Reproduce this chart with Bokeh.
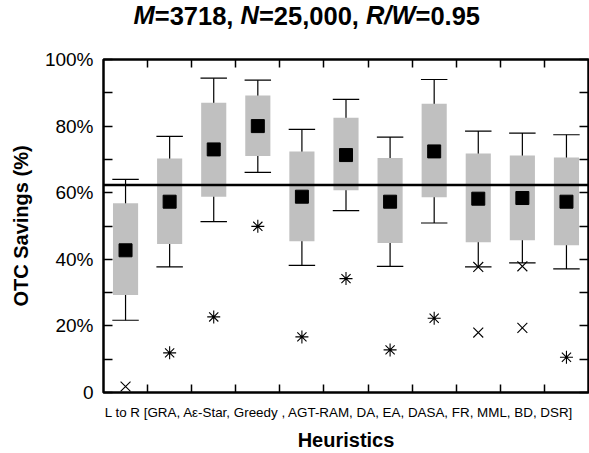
import numpy as np
from bokeh.plotting import figure
from bokeh.models import Range1d, LinearAxis, FixedTicker, Span
from bokeh.embed import file_html
from bokeh.resources import INLINE

# ---------------- data ----------------
heuristics = ["GRA", "A\u03b5-Star", "Greedy", "AGT-RAM", "DA", "EA", "DASA", "FR", "MML", "BD", "DSR"]
whisker_high = [64.0, 76.9, 94.4, 93.8, 79.0, 88.0, 76.7, 94.0, 78.5, 77.9, 77.4]
box_top      = [56.8, 70.3, 87.0, 89.2, 72.4, 82.5, 70.4, 86.7, 71.8, 71.2, 70.6]
mean_value   = [42.7, 57.3, 73.0, 80.0, 58.8, 71.3, 57.3, 72.4, 58.2, 58.4, 57.3]
box_bottom   = [29.3, 44.6, 58.8, 71.0, 45.4, 60.7, 44.9, 58.6, 45.1, 45.7, 44.2]
whisker_low  = [21.7, 37.7, 51.3, 66.1, 38.2, 54.6, 37.9, 50.9, 37.7, 38.9, 37.1]

star_outlier_cat = ["A\u03b5-Star", "Greedy", "AGT-RAM", "DA", "EA", "DASA", "FR", "DSR"]
star_outlier_val = [11.9, 22.7, 49.9, 16.7, 34.2, 12.8, 22.3, 10.6]
x_outlier_cat = ["GRA", "MML", "MML", "BD", "BD"]
x_outlier_val = [1.8, 37.7, 18.0, 37.9, 19.4]

reference_level = 62.3

y_ticks = [0, 20, 40, 60, 80, 100]
y_minor = [10, 30, 50, 70, 90]
y_tick_labels = ["0", "20%", "40%", "60%", "80%", "100%"]

title_parts = [("M", True), ("=3718, ", False), ("N", True), ("=25,000, ", False), ("R/W", True), ("=0.95", False)]
category_text = "L to R [GRA, A\u03b5-Star, Greedy , AGT-RAM, DA, EA, DASA, FR, MML, BD, DSR]"
x_title = "Heuristics"
y_title = "OTC Savings (%)"

FONT = "Liberation Sans"
n = len(heuristics)
pos = np.arange(n) + 0.5
idx = {h: i for i, h in enumerate(heuristics)}

SHIFT = 4  # figure raised by this many pixels so the title sits close to the top
p = figure(width=589, height=453 + SHIFT, x_range=Range1d(0, n), y_range=Range1d(0, 100),
           output_backend="svg", toolbar_location=None,
           x_axis_type=None, y_axis_type=None,
           min_border_left=103, min_border_right=1, min_border_top=59 + SHIFT, min_border_bottom=60)
p.margin = (-SHIFT, 0, 0, 0)
p.xgrid.visible = False
p.ygrid.visible = False
p.outline_line_color = "black"
p.outline_line_width = 2.5
p.background_fill_color = "white"
p.border_fill_color = "white"

# axes
def y_axis(with_labels):
    ax = LinearAxis(ticker=FixedTicker(ticks=y_ticks, minor_ticks=y_minor))
    ax.axis_line_color = None
    ax.major_tick_in = 9
    ax.major_tick_out = 0
    ax.minor_tick_in = 9
    ax.minor_tick_out = 0
    ax.major_tick_line_color = "black"
    ax.minor_tick_line_color = "black"
    ax.major_tick_line_width = 1.5
    ax.minor_tick_line_width = 1.5
    if with_labels:
        ax.major_label_overrides = {t: l for t, l in zip(y_ticks, y_tick_labels)}
        ax.major_label_text_font = FONT
        ax.major_label_text_font_size = "19px"
        ax.major_label_text_color = "black"
        ax.major_label_standoff = 10
        ax.axis_label = y_title
        ax.axis_label_text_font = FONT
        ax.axis_label_text_font_size = "20px"
        ax.axis_label_text_font_style = "bold"
        ax.axis_label_text_color = "black"
        ax.axis_label_standoff = 10
    else:
        ax.major_label_text_font_size = "0px"
        ax.major_label_standoff = 0
    return ax

def x_axis():
    ax = LinearAxis(ticker=FixedTicker(ticks=list(np.arange(1, n)), minor_ticks=[]))
    ax.axis_line_color = None
    ax.major_tick_in = 8
    ax.major_tick_out = 0
    ax.major_tick_line_color = "black"
    ax.major_tick_line_width = 1.5
    ax.major_label_text_font_size = "0px"
    ax.major_label_standoff = 0
    return ax

def text_axis(ticks, labels, size, style, standoff):
    ticks = [round(float(t), 3) for t in ticks]
    ax = LinearAxis(ticker=FixedTicker(ticks=ticks, minor_ticks=[]))
    ax.axis_line_color = None
    ax.major_tick_line_color = None
    ax.major_tick_in = 0
    ax.major_tick_out = 0
    ax.major_label_overrides = {t: l for t, l in zip(ticks, labels)}
    ax.major_label_text_font = FONT
    ax.major_label_text_font_size = size
    ax.major_label_text_font_style = style
    ax.major_label_text_color = "black"
    ax.major_label_standoff = standoff
    return ax

p.add_layout(y_axis(True), "left")
p.add_layout(y_axis(False), "right")
p.add_layout(x_axis(), "below")
p.add_layout(x_axis(), "above")

px_per_unit = 485 / n

# bottom: category list and the x title
cat_axis = text_axis([(339 - 103) / px_per_unit], [category_text], "13.4px", "normal", 12)
cat_axis.axis_label = x_title
cat_axis.axis_label_text_font = FONT
cat_axis.axis_label_text_font_size = "20px"
cat_axis.axis_label_text_font_style = "bold"
cat_axis.axis_label_text_color = "black"
cat_axis.axis_label_standoff = 6
p.add_layout(cat_axis, "below")

# top: title with bold and bold-italic pieces
W = {'M': 833, 'N': 722, 'R': 722, 'W': 944, '/': 278, '=': 584, ',': 278, ' ': 278, '.': 278}
for d in "0123456789":
    W[d] = 556
tsize = 25.5
xcur = 133.0
centers = {True: [], False: []}
texts = {True: [], False: []}
for txt, ital in title_parts:
    core = txt.strip()
    w = sum(W[c] for c in core) / 1000 * tsize
    centers[ital].append((xcur + w / 2 - 103) / px_per_unit)
    texts[ital].append(core)
    xcur += sum(W[c] for c in txt) / 1000 * tsize

title_plain = text_axis(centers[False], texts[False], f"{tsize}px", "bold", 26 + SHIFT)
title_ital = text_axis(centers[True], texts[True], f"{tsize}px", "bold italic", -30)
p.add_layout(title_plain, "above")
p.add_layout(title_ital, "above")

# whiskers
p.segment(x0=pos, x1=pos, y0=whisker_low, y1=whisker_high, line_color="black", line_width=1.2)
p.segment(x0=pos - 0.3, x1=pos + 0.3, y0=whisker_high, y1=whisker_high, line_color="black", line_width=1.2)
p.segment(x0=pos - 0.3, x1=pos + 0.3, y0=whisker_low, y1=whisker_low, line_color="black", line_width=1.2)
# boxes
p.vbar(x=pos, width=0.57, bottom=box_bottom, top=box_top, fill_color="#c0c0c0", line_color=None)
# means
p.scatter(x=pos, y=mean_value, marker="square", size=13, fill_color="black", line_color="black")
# outliers
p.scatter(x=[pos[idx[c]] for c in star_outlier_cat], y=star_outlier_val, marker="asterisk",
          size=13, line_color="black", line_width=1.1)
p.scatter(x=[pos[idx[c]] for c in x_outlier_cat], y=x_outlier_val, marker="x",
          size=14, line_color="black", line_width=1.1)

p.add_layout(Span(location=reference_level, dimension="width", line_color="black", line_width=2.5))

open("out.html", "w").write(file_html(p, INLINE))
